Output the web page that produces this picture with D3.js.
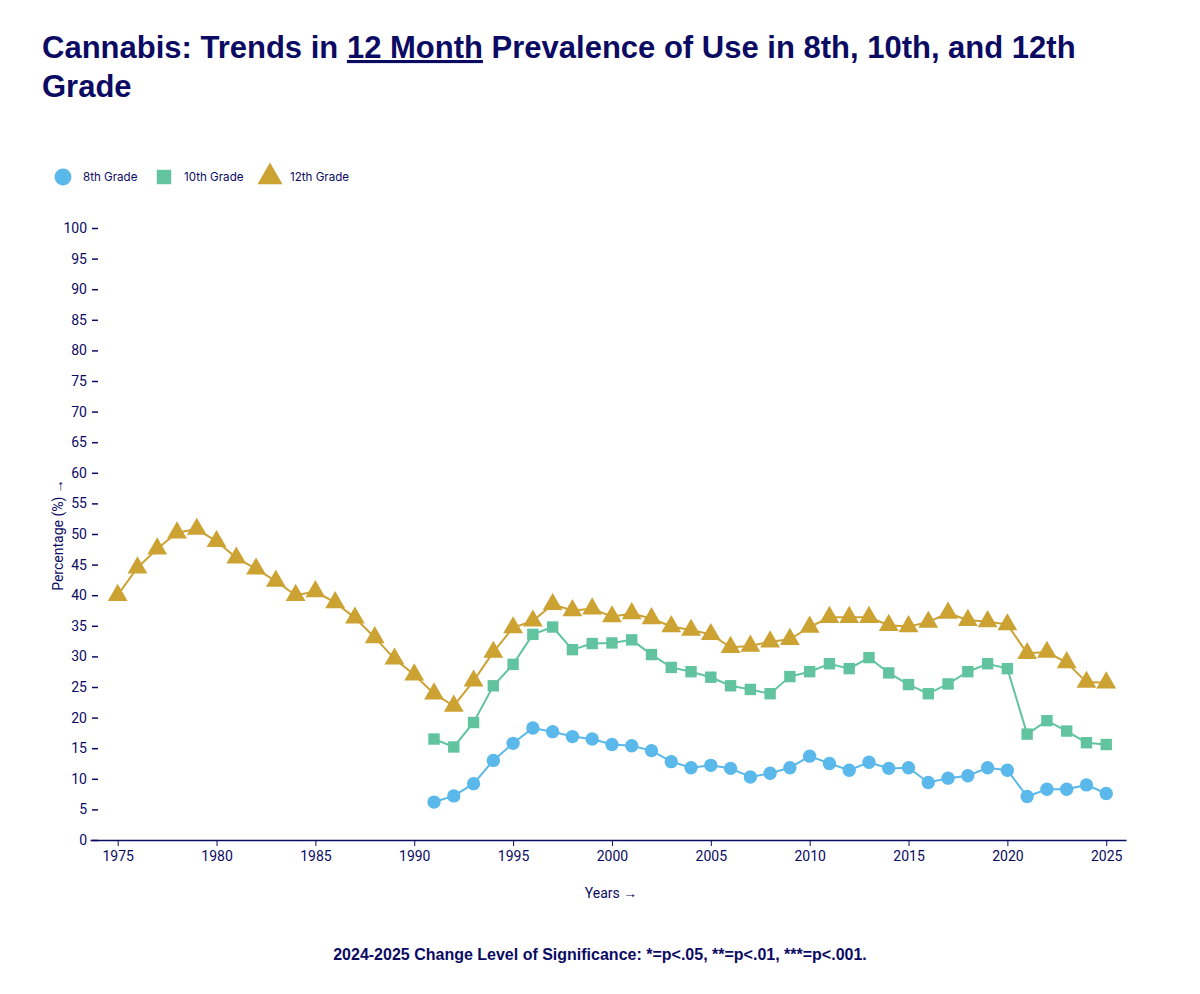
<!DOCTYPE html>
<html>
<head>
<meta charset="utf-8">
<script src="https://cdn.jsdelivr.net/npm/d3@7"></script>
<style>
  body { margin: 0; background: #fff; }
  svg { display: block; }
</style>
</head>
<body>
<div id="chart"></div>
<script>
// data
const grades = ["8th Grade", "10th Grade", "12th Grade"]
const gradeColors = ["#5ab8ea", "#62c3a0", "#cca233"]

const years12 = d3.range(1975, 2026)
const values12 = [40.0, 44.5, 47.6, 50.2, 50.8, 48.8, 46.1, 44.3, 42.3, 40.0,
                  40.6, 38.8, 36.3, 33.1, 29.6, 27.0, 23.9, 21.9, 26.0, 30.7,
                  34.7, 35.8, 38.5, 37.5, 37.8, 36.5, 37.0, 36.2, 34.9, 34.3,
                  33.6, 31.5, 31.7, 32.4, 32.8, 34.8, 36.4, 36.4, 36.4, 35.1,
                  34.9, 35.6, 37.1, 35.9, 35.7, 35.2, 30.5, 30.7, 29.0, 25.8, 25.7]

const years10 = d3.range(1991, 2026)
const values10 = [16.5, 15.2, 19.2, 25.2, 28.7, 33.6, 34.8, 31.1, 32.1, 32.2,
                  32.7, 30.3, 28.2, 27.5, 26.6, 25.2, 24.6, 23.9, 26.7, 27.5,
                  28.8, 28.0, 29.8, 27.3, 25.4, 23.9, 25.5, 27.5, 28.8, 28.0,
                  17.3, 19.5, 17.8, 15.9, 15.6]

const years8 = d3.range(1991, 2026)
const values8 = [6.2, 7.2, 9.2, 13.0, 15.8, 18.3, 17.7, 16.9, 16.5, 15.6,
                 15.4, 14.6, 12.8, 11.8, 12.2, 11.7, 10.3, 10.9, 11.8, 13.7,
                 12.5, 11.4, 12.7, 11.7, 11.8, 9.4, 10.1, 10.5, 11.8, 11.4,
                 7.1, 8.3, 8.3, 9.0, 7.6]

const yTicks = d3.range(0, 101, 5)
const xTicks = d3.range(1975, 2026, 5)

const navy = "#0b0b63"
const W = 1200, H = 994

const svg = d3.select("#chart").append("svg")
    .attr("width", W)
    .attr("height", H)

// title, with "12 Month" underlined
const titleFont = "'Liberation Sans', Arial, sans-serif"
const title = svg.append("text")
    .attr("x", 42)
    .attr("y", 58)
    .attr("fill", navy)
    .style("font-family", titleFont)
    .style("font-weight", "bold")
    .style("font-size", "31px")
title.append("tspan").text("Cannabis: Trends in ")
title.append("tspan").text("12 Month").style("text-decoration", "underline")
title.append("tspan").text(" Prevalence of Use in 8th, 10th, and 12th")
svg.append("text")
    .attr("x", 42)
    .attr("y", 97)
    .attr("fill", navy)
    .style("font-family", titleFont)
    .style("font-weight", "bold")
    .style("font-size", "31px")
    .text("Grade")

// scales
const x = d3.scaleLinear().domain([1973.6, 2026]).range([90, 1126])
const y = d3.scaleLinear().domain([0, 100]).range([840, 228])

const axisFont = "Roboto, 'Noto Sans', sans-serif"

// x axis
const gx = svg.append("g")
    .attr("transform", "translate(0,840)")
    .call(d3.axisBottom(x).tickValues(xTicks).tickFormat(d3.format("d"))
        .tickSize(6).tickSizeOuter(0).tickPadding(5))
gx.select(".domain").attr("stroke", navy).attr("stroke-width", 1.5)
gx.selectAll(".tick line").attr("stroke", navy)
gx.selectAll(".tick text").attr("fill", navy)
    .style("font-family", axisFont).style("font-size", "14px")

// y axis, ticks only
const gy = svg.append("g")
    .attr("transform", "translate(98,0)")
    .call(d3.axisLeft(y).tickValues(yTicks).tickSize(6).tickPadding(5))
gy.select(".domain").remove()
gy.selectAll(".tick line").attr("stroke", navy).attr("stroke-width", 1.5)
gy.selectAll(".tick text").attr("fill", navy)
    .style("font-family", axisFont).style("font-size", "14px")

// axis titles
svg.append("text")
    .attr("transform", "translate(63,535) rotate(-90)")
    .attr("text-anchor", "middle")
    .attr("fill", navy)
    .style("font-family", axisFont).style("font-size", "14px")
    .text("Percentage (%) →")
svg.append("text")
    .attr("x", 611)
    .attr("y", 898)
    .attr("text-anchor", "middle")
    .attr("fill", navy)
    .style("font-family", axisFont).style("font-size", "14px")
    .text("Years →")

// series
const series = [
    { name: grades[0], color: gradeColors[0], symbol: d3.symbolCircle, size: 140,
      data: years8.map((yr, i) => ({ year: yr, value: values8[i] })) },
    { name: grades[1], color: gradeColors[1], symbol: d3.symbolSquare, size: 130,
      data: years10.map((yr, i) => ({ year: yr, value: values10[i] })) },
    { name: grades[2], color: gradeColors[2], symbol: d3.symbolTriangle, size: 170,
      data: years12.map((yr, i) => ({ year: yr, value: values12[i] })) }
]

const line = d3.line()
    .x(d => x(d.year))
    .y(d => y(d.value))

series.slice().reverse().forEach(s => {
    svg.append("path")
        .datum(s.data)
        .attr("fill", "none")
        .attr("stroke", s.color)
        .attr("stroke-width", 2)
        .attr("d", line)
    svg.append("g").selectAll("path")
        .data(s.data)
        .join("path")
        .attr("transform", d => `translate(${x(d.year)},${y(d.value)})`)
        .attr("d", d3.symbol().type(s.symbol).size(s.size))
        .attr("fill", s.color)
})

// legend
const legendX = [63, 164, 270]
const legend = svg.append("g")
series.forEach((s, i) => {
    legend.append("path")
        .attr("transform", `translate(${legendX[i]},177)`)
        .attr("d", d3.symbol().type(s.symbol).size(s.size * 1.6))
        .attr("fill", s.color)
    legend.append("text")
        .attr("x", legendX[i] + 20)
        .attr("y", 181)
        .attr("fill", navy)
        .style("font-family", "Inter, 'Liberation Sans', sans-serif")
        .style("font-size", "11.6px")
        .text(s.name)
})

// footer note
svg.append("text")
    .attr("x", 600)
    .attr("y", 960)
    .attr("text-anchor", "middle")
    .attr("fill", navy)
    .style("font-family", titleFont)
    .style("font-weight", "bold")
    .style("font-size", "16px")
    .text("2024-2025 Change Level of Significance: *=p<.05, **=p<.01, ***=p<.001.")
</script>
</body>
</html>
